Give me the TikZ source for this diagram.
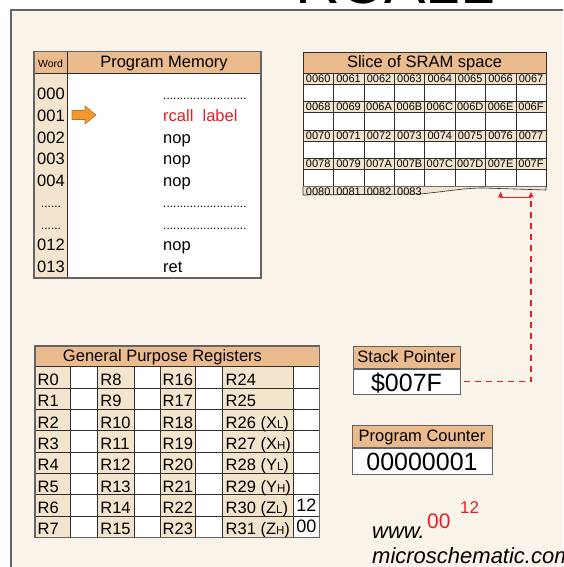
\documentclass[tikz,border=0pt]{standalone}
\usepackage{fontspec}
\setmainfont{Liberation Sans}
\usetikzlibrary{arrows.meta,positioning,calc}
\definecolor{cream}{RGB}{250,243,234}
\definecolor{hdtan}{RGB}{236,187,141}
\definecolor{sand}{RGB}{243,228,205}
\definecolor{rim}{RGB}{100,100,100}
\definecolor{grid}{RGB}{45,45,45}
\definecolor{alert}{RGB}{226,32,36}
\definecolor{pointer}{RGB}{246,152,44}
\newcommand{\fsz}[1]{\fontsize{#1}{#1}\selectfont}
\newcommand{\lo}[1]{{\fsz{11.5}#1}}
\newcommand{\pmdots}{{\fsz{12}.........................}}
\newcommand{\wdots}{{\fsz{12}......}}

\begin{document}
\begin{tikzpicture}[x=1pt,y=-1pt,
    hdbox/.style={draw=grid,fill=hdtan,line width=0.8pt,inner sep=0pt,font=\fsz{16.5},text height=11pt,text depth=0pt},
    valbox/.style={draw=rim,fill=white,line width=1pt,inner sep=0pt,font=\fsz{25},text height=19.5pt,text depth=0pt},
    addr/.style={draw=grid,fill=sand,line width=0.6pt,inner sep=0pt,minimum width=30.4pt,minimum height=11.3pt,font=\fsz{11}},
    slot/.style={draw=grid,fill=white,line width=0.6pt,inner sep=0pt,minimum width=30.4pt,minimum height=17.1pt},
    txt/.style={inner sep=0pt,font=\fsz{16.5}},
    wire/.style={alert,line width=1.1pt},
    tip/.style={-{Stealth[length=6pt,width=5.5pt]}}]
  \useasboundingbox (0,0) rectangle (563,567);
  \clip (0,0) rectangle (563,567);
  \fill[white] (0,0) rectangle (563,567);
  \filldraw[fill=cream,draw=rim,line width=1.5pt] (11,10) rectangle (620,620);
  \node[txt,font=\fsz{62},anchor=base] (title) at (395,4) {RCALL};

  \fill[sand] (34,73) rectangle (67,278);
  \fill[white] (67,73) rectangle (261,278);
  \node[hdbox,minimum width=33pt,minimum height=21.5pt,font=\fsz{10.5}] (wordhd) at (50.5,62.25) {Word};
  \node[hdbox,minimum width=194pt,minimum height=21.5pt] (pmhd) at (164,62.25) {Program Memory};
  \draw[grid,line width=1pt] (67,73) -- (67,278);
  \draw[rim,line width=1.3pt] (34,51.5) rectangle (261,278);
  \foreach \w/\op [count=\i from 0] in {000/\pmdots,001/{\color{alert}rcall\ \ label},002/nop,003/nop,004/nop,\wdots/\pmdots,\wdots/\pmdots,012/nop,013/ret}{
    \node[txt,anchor=base] (w\i) at (51,100+21.5*\i) {\w};
    \node[txt,anchor=base west] (op\i) at (163,100+21.5*\i) {\op};
  }
  \filldraw[fill=pointer,draw=pointer!75!black,line width=0.6pt] (72,110.5) -- (85,110.5) -- (85,106) -- (96,115) -- (85,124) -- (85,119.5) -- (72,119.5) -- cycle;

  \node[hdbox,minimum width=243pt,minimum height=21pt] (sramhd) at (424.5,62.5) {Slice of SRAM space};
  \foreach \r in {0,...,3}{
    \foreach \c in {0,...,7}{
      \pgfmathparse{Hex(96+8*\r+\c)}\let\h\pgfmathresult
      \node[addr] (a\r\c) at (318.2+30.4*\c,78.65+28.4*\r) {00\h};
      \node[slot] (s\r\c) at (318.2+30.4*\c,92.85+28.4*\r) {};
    }
  }
  \filldraw[fill=sand,draw=grid,line width=0.6pt] (303,186.6) -- (303,195) -- (420,194) .. controls (450,191) and (465,188) .. (483,188) -- (546,190) -- (546,186.6);
  \foreach \x in {333.4,363.8,394.2} \draw[grid,line width=0.6pt] (\x,186.6) -- (\x,194.6);
  \foreach \c in {0,...,3} \node[addr,draw=none,fill=none] (a4\c) at (318.2+30.4*\c,192) {008\c};

  \foreach \i in {0,...,7}{
    \foreach \xa/\xb/\xc in {35/70.7/97.7,97.7/134/160,160/195.7/222.7,222.7/293.3/319.3}{
      \filldraw[fill=sand,draw=grid,line width=0.8pt] (\xa,366.7+21.33*\i) rectangle (\xb,388.03+21.33*\i);
      \filldraw[fill=white,draw=grid,line width=0.8pt] (\xb,366.7+21.33*\i) rectangle (\xc,388.03+21.33*\i);
    }
  }
  \node[hdbox,minimum width=284.3pt,minimum height=20.7pt] (gprhd) at (177.15,356.35) {};
  \node[txt,anchor=base] (gprtitle) at (162.5,361.7) {General Purpose Registers};
  \foreach \k/\xa in {0/35,1/97.7,2/160}{
    \foreach \i in {0,...,7}{
      \pgfmathtruncatemacro\n{8*\k+\i}
      \node[txt,anchor=base west] (r\n) at (\xa+2.5,385.5+21.33*\i) {R\n};
    }
  }
  \foreach \lab [count=\i from 0] in {R24,R25,R26 (X\lo{L}),R27 (X\lo{H}),R28 (Y\lo{L}),R29 (Y\lo{H}),R30 (Z\lo{L}),R31 (Z\lo{H})}{
    \pgfmathtruncatemacro\n{24+\i}
    \node[txt,anchor=base west] (r\n) at (225.5,385.5+21.33*\i) {\lab};
  }
  \node[txt,font=\fsz{18},text height=12.6pt,text depth=0pt] (zlo) at (306.3,505.35) {12};
  \node[txt,font=\fsz{18},text height=12.6pt,text depth=0pt] (zhi) at (306.3,526.68) {00};
  \draw[rim,line width=1.3pt] (35,346) rectangle (319.3,537.3);

  \node[hdbox,draw=rim,line width=1pt,minimum width=107pt,minimum height=22pt] (sphd) at (406.5,357) {Stack Pointer};
  \node[valbox,minimum width=107pt,minimum height=25pt,below=0pt of sphd] (spval) {\$007F};
  \node[hdbox,draw=rim,line width=1pt,minimum width=140pt,minimum height=22pt] (pchd) at (422,436) {Program Counter};
  \node[valbox,minimum width=140pt,minimum height=26pt,below=0pt of pchd] (pcval) {00000001};

  \coordinate (spbend) at ($(s37.south)+(0,10.4)$);
  \draw[wire,dash pattern=on 6pt off 5pt,shorten <=3pt] (spval.east) -| (spbend);
  \draw[wire,tip,shorten >=5pt] (spbend) -- (s37.south);
  \draw[wire,tip,shorten >=5pt] (spbend) -| (s36.south);

  \node[txt,anchor=base west,font=\fsz{22}\itshape] (www) at (372,538) {www.};
  \node[txt,anchor=base west,font=\fsz{22}\itshape] (site) at (372,563) {microschematic.com};
  \node[txt,anchor=base west,font=\fsz{21},text=alert] (zlval) at (427,528) {00};
  \node[txt,anchor=base west,font=\fsz{17},text=alert] (zhval) at (460,513) {12};
\end{tikzpicture}
\end{document}
